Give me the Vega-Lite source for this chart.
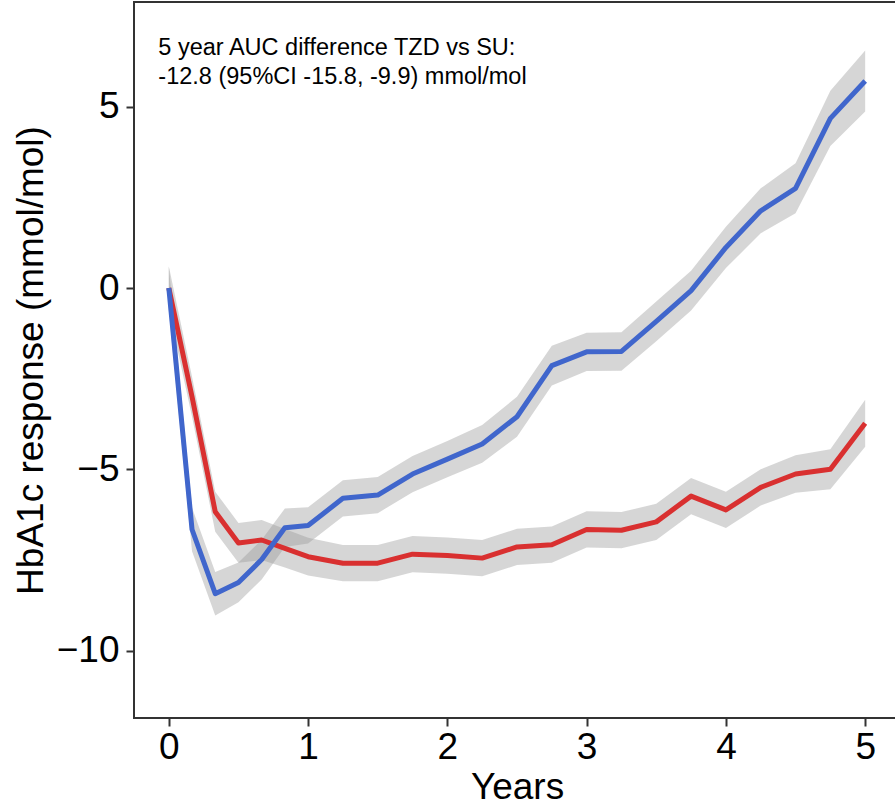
{
  "$schema": "https://vega.github.io/schema/vega-lite/v6.json",
  "width": 766,
  "height": 716,
  "autosize": {"type": "none"},
  "padding": {"left": 134, "top": 2, "right": 0, "bottom": 87},
  "background": "white",
  "config": {
    "font": "Liberation Sans",
    "view": {"stroke": "#333333", "strokeWidth": 2},
    "axis": {
      "grid": false,
      "domain": false,
      "ticks": true,
      "tickColor": "#333333",
      "tickWidth": 2,
      "tickSize": 8,
      "labelFont": "Liberation Sans",
      "labelFontSize": 37,
      "labelColor": "black",
      "titleFont": "Liberation Sans",
      "titleFontSize": 37,
      "titleFontWeight": "normal",
      "titleColor": "black"
    }
  },
  "datasets": {
    "curves": [
      {"drug": "SU", "t": 0, "m": 0, "lo": -0.6, "hi": 0.6},
      {"drug": "SU", "t": 0.1667, "m": -6.66, "lo": -7.26, "hi": -6.06},
      {"drug": "SU", "t": 0.3333, "m": -8.43, "lo": -9.03, "hi": -7.83},
      {"drug": "SU", "t": 0.5, "m": -8.12, "lo": -8.67, "hi": -7.57},
      {"drug": "SU", "t": 0.6667, "m": -7.49, "lo": -8.04, "hi": -6.94},
      {"drug": "SU", "t": 0.8333, "m": -6.61, "lo": -7.14, "hi": -6.08},
      {"drug": "SU", "t": 1, "m": -6.55, "lo": -7.05, "hi": -6.05},
      {"drug": "SU", "t": 1.25, "m": -5.8, "lo": -6.3, "hi": -5.3},
      {"drug": "SU", "t": 1.5, "m": -5.71, "lo": -6.21, "hi": -5.21},
      {"drug": "SU", "t": 1.75, "m": -5.13, "lo": -5.63, "hi": -4.63},
      {"drug": "SU", "t": 2, "m": -4.72, "lo": -5.22, "hi": -4.22},
      {"drug": "SU", "t": 2.25, "m": -4.3, "lo": -4.82, "hi": -3.78},
      {"drug": "SU", "t": 2.5, "m": -3.55, "lo": -4.1, "hi": -3.0},
      {"drug": "SU", "t": 2.75, "m": -2.14, "lo": -2.69, "hi": -1.59},
      {"drug": "SU", "t": 3, "m": -1.76, "lo": -2.29, "hi": -1.23},
      {"drug": "SU", "t": 3.25, "m": -1.75, "lo": -2.28, "hi": -1.22},
      {"drug": "SU", "t": 3.5, "m": -0.92, "lo": -1.47, "hi": -0.37},
      {"drug": "SU", "t": 3.75, "m": -0.07, "lo": -0.62, "hi": 0.48},
      {"drug": "SU", "t": 4, "m": 1.12, "lo": 0.55, "hi": 1.69},
      {"drug": "SU", "t": 4.25, "m": 2.13, "lo": 1.51, "hi": 2.75},
      {"drug": "SU", "t": 4.5, "m": 2.75, "lo": 2.06, "hi": 3.44},
      {"drug": "SU", "t": 4.75, "m": 4.68, "lo": 3.92, "hi": 5.44},
      {"drug": "SU", "t": 5, "m": 5.71, "lo": 4.87, "hi": 6.55},
      {"drug": "TZD", "t": 0, "m": 0, "lo": -0.6, "hi": 0.6},
      {"drug": "TZD", "t": 0.1667, "m": -3.0, "lo": -3.55, "hi": -2.45},
      {"drug": "TZD", "t": 0.3333, "m": -6.17, "lo": -6.72, "hi": -5.62},
      {"drug": "TZD", "t": 0.5, "m": -7.03, "lo": -7.58, "hi": -6.48},
      {"drug": "TZD", "t": 0.6667, "m": -6.95, "lo": -7.5, "hi": -6.4},
      {"drug": "TZD", "t": 0.8333, "m": -7.18, "lo": -7.71, "hi": -6.65},
      {"drug": "TZD", "t": 1, "m": -7.41, "lo": -7.93, "hi": -6.89},
      {"drug": "TZD", "t": 1.25, "m": -7.59, "lo": -8.09, "hi": -7.09},
      {"drug": "TZD", "t": 1.5, "m": -7.59, "lo": -8.09, "hi": -7.09},
      {"drug": "TZD", "t": 1.75, "m": -7.34, "lo": -7.84, "hi": -6.84},
      {"drug": "TZD", "t": 2, "m": -7.38, "lo": -7.88, "hi": -6.88},
      {"drug": "TZD", "t": 2.25, "m": -7.45, "lo": -7.95, "hi": -6.95},
      {"drug": "TZD", "t": 2.5, "m": -7.14, "lo": -7.64, "hi": -6.64},
      {"drug": "TZD", "t": 2.75, "m": -7.08, "lo": -7.58, "hi": -6.58},
      {"drug": "TZD", "t": 3, "m": -6.66, "lo": -7.16, "hi": -6.16},
      {"drug": "TZD", "t": 3.25, "m": -6.68, "lo": -7.18, "hi": -6.18},
      {"drug": "TZD", "t": 3.5, "m": -6.45, "lo": -6.95, "hi": -5.95},
      {"drug": "TZD", "t": 3.75, "m": -5.74, "lo": -6.24, "hi": -5.24},
      {"drug": "TZD", "t": 4, "m": -6.12, "lo": -6.62, "hi": -5.62},
      {"drug": "TZD", "t": 4.25, "m": -5.5, "lo": -6.0, "hi": -5.0},
      {"drug": "TZD", "t": 4.5, "m": -5.13, "lo": -5.65, "hi": -4.61},
      {"drug": "TZD", "t": 4.75, "m": -5.0, "lo": -5.55, "hi": -4.45},
      {"drug": "TZD", "t": 5, "m": -3.73, "lo": -4.38, "hi": -3.08}
    ],
    "notes": [
      {"t": -0.075, "m": 6.43, "label": "5 year AUC difference TZD vs SU:"},
      {"t": -0.075, "m": 5.63, "label": "-12.8 (95%CI -15.8, -9.9) mmol/mol"}
    ]
  },
  "data": {"name": "curves"},
  "encoding": {
    "x": {
      "field": "t",
      "type": "quantitative",
      "scale": {"domain": [-0.25, 5.25], "nice": false, "zero": false},
      "axis": {"values": [0, 1, 2, 3, 4, 5], "title": "Years", "labelPadding": 3, "titlePadding": 4, "format": "d"}
    },
    "y": {
      "field": "m",
      "type": "quantitative",
      "scale": {"domain": [-11.86, 7.89], "nice": false, "zero": false},
      "axis": {"values": [-10, -5, 0, 5], "title": "HbA1c response (mmol/mol)", "labelPadding": 7, "titlePadding": 6}
    }
  },
  "layer": [
    {
      "transform": [{"filter": "datum.drug === 'SU'"}],
      "mark": {"type": "area", "color": "#999999", "opacity": 0.4},
      "encoding": {"y": {"field": "lo", "type": "quantitative"}, "y2": {"field": "hi"}}
    },
    {
      "transform": [{"filter": "datum.drug === 'TZD'"}],
      "mark": {"type": "area", "color": "#999999", "opacity": 0.4},
      "encoding": {"y": {"field": "lo", "type": "quantitative"}, "y2": {"field": "hi"}}
    },
    {
      "transform": [{"filter": "datum.drug === 'TZD'"}],
      "mark": {"type": "line", "color": "#D93030", "strokeWidth": 5, "strokeJoin": "round"},
      "encoding": {}
    },
    {
      "transform": [{"filter": "datum.drug === 'SU'"}],
      "mark": {"type": "line", "color": "#4066CC", "strokeWidth": 5, "strokeJoin": "round"},
      "encoding": {}
    },
    {
      "data": {"name": "notes"},
      "mark": {"type": "text", "align": "left", "baseline": "alphabetic", "fontSize": 23.5, "font": "Liberation Sans", "color": "black"},
      "encoding": {"text": {"field": "label"}}
    }
  ]
}
